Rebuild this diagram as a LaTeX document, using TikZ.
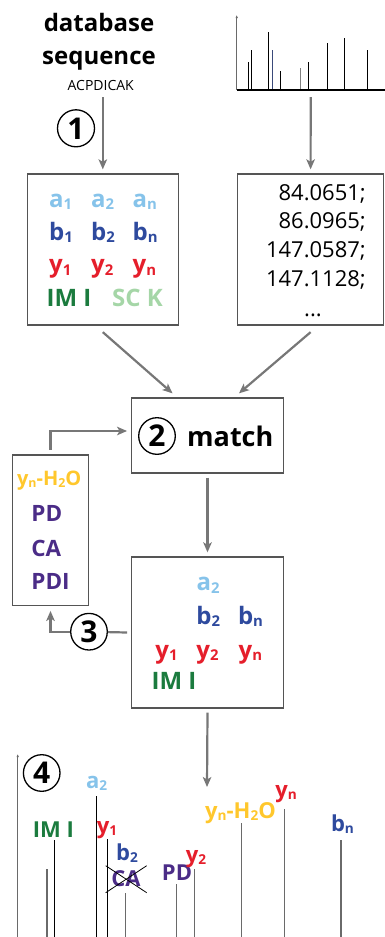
\documentclass[tikz,border=0pt]{standalone}
\usepackage{fontspec}
\setmainfont{Open Sans}
\usetikzlibrary{arrows.meta,calc}

\definecolor{ionA}{HTML}{86C3EA}
\definecolor{ionB}{HTML}{2E4A9E}
\definecolor{ionY}{HTML}{E51E2B}
\definecolor{ionIM}{HTML}{1B7B3E}
\definecolor{ionSC}{HTML}{A5D6A7}
\definecolor{ionW}{HTML}{FFC72C}
\definecolor{ionP}{HTML}{4B2C87}
\definecolor{frameGray}{HTML}{555555}
\definecolor{flowGray}{HTML}{777777}
\definecolor{peakBlue}{HTML}{3A4A7A}
\definecolor{peakGray}{HTML}{6A6A6A}

% subscript in the same font, scaled and lowered
\newcommand\ssub[1]{\raisebox{-0.1em}{\scalebox{0.62}{#1}}}
\newcommand\fsz[1]{\fontsize{#1}{#1}\selectfont}

\begin{document}
\begin{tikzpicture}[x=1pt,y=-1pt,
  frame/.style={draw=frameGray, line width=1.3pt, inner sep=0pt, rectangle},
  flow/.style={draw=flowGray, line width=2.2pt, -{Stealth[length=10pt,width=8.5pt,inset=2.5pt]}},
  flowline/.style={draw=flowGray, line width=2.2pt},
  ion/.style={font=\fsz{24}\bfseries, inner sep=0pt, anchor=base west},
  alt/.style={font=\fsz{22.5}\bfseries, inner sep=0pt, anchor=base west, text=ionP},
  tag/.style={font=\fsz{22}\bfseries, inner sep=0pt, anchor=base},
  num/.style={font=\fsz{22}, inner sep=0pt, anchor=base east, text=black},
  stepnum/.style={circle, draw=black, line width=1.3pt, minimum size=37pt, inner sep=0pt, font=\fsz{30}\bfseries},
  peak/.style={line width=1pt, draw=black},
  peakg/.style={line width=1.1pt, draw=peakGray},
  axis/.style={draw=peakGray, line width=1.4pt, -{Latex[length=3pt,width=2.5pt]}}
]
\useasboundingbox (0,0) rectangle (385,937);

% ---------- input: sequence ----------
\node[font=\fsz{24}\bfseries, anchor=base, inner sep=0pt] (db) at (99,31.7) {database};
\node[font=\fsz{24}\bfseries, anchor=base, inner sep=0pt] (sq) at (99,64) {sequence};
\node[font=\fsz{14}, anchor=base, inner sep=0pt, text=black] (seq) at (100.7,90.7) {ACPDICAK};
\node[stepnum] (c1) at (76,128.3) {1};

% ---------- input: measured spectrum ----------
\coordinate (specbase) at (310.7,90);
\foreach \px/\py in {248.3/61.7, 251.7/50, 268.3/32.3, 280/71, 308/61.7, 327/43.3, 344.3/37.7, 367/50}
  \draw[peak] (\px,90) -- (\px,\py);
\draw[peak, draw=peakBlue] (272.7,90) -- (272.7,50);
\draw[peakg, draw=gray] (300.7,90) -- (300.7,67.7);
\draw[line width=1.3pt] (236.7,90) -- (385,90);
\draw[axis] (236.7,90) -- (236.7,15);

% ---------- theoretical ions ----------
\node[frame, minimum width=151pt, minimum height=151pt] (box1) at (102.8,249.5) {};
\node[ion, text=ionA] at (49,207.3) {a\ssub{1}};
\node[ion, text=ionA] at (91,207.3) {a\ssub{2}};
\node[ion, text=ionA] at (132.5,207.3) {a\ssub{n}};
\node[ion, text=ionB] at (49,240) {b\ssub{1}};
\node[ion, text=ionB] at (91,240) {b\ssub{2}};
\node[ion, text=ionB] at (132.5,240) {b\ssub{n}};
\node[ion, text=ionY] at (49,272.7) {y\ssub{1}};
\node[ion, text=ionY] at (91,272.7) {y\ssub{2}};
\node[ion, text=ionY] at (132.5,272.7) {y\ssub{n}};
\node[ion, text=ionIM] at (46.5,306.7) {IM I};
\node[ion, text=ionSC] at (112,306.7) {SC K};

% ---------- peak list ----------
\node[frame, minimum width=145.8pt, minimum height=151pt] (box2) at (310.6,249.5) {};
\node[num] at (366,200) {84.0651;};
\node[num] at (366,228.3) {86.0965;};
\node[num] at (366,257.3) {147.0587;};
\node[num] at (366,286.7) {147.1128;};
\node[num, anchor=base] at (313,316) {...};

% ---------- matching ----------
\node[frame, minimum width=151.6pt, minimum height=75pt] (match) at (207.5,435.5) {};
\node[stepnum, minimum size=36.6pt] (c2) at (157,436) {2};
\node[font=\fsz{27}\bfseries, anchor=base west, inner sep=0pt] at (187,446) {match};

% ---------- alternative ions ----------
\node[frame, minimum width=75.6pt, minimum height=150.7pt] (altbox) at (50.5,530.4) {};
\node[font=\fsz{20}\bfseries, anchor=base, inner sep=0pt, text=ionW] at (49.2,485) {y\ssub{n}-H\ssub{2}O};
\node[alt] at (31.2,521.7) {PD};
\node[alt] at (31.2,556.7) {CA};
\node[alt] at (31.2,589.3) {PDI};

% ---------- matched ions ----------
\node[frame, minimum width=151.6pt, minimum height=151pt] (box3) at (207.5,632.5) {};
\node[ion, text=ionA] at (196.5,590.7) {a\ssub{2}};
\node[ion, text=ionB] at (196.2,624.3) {b\ssub{2}};
\node[ion, text=ionB] at (237.8,624.3) {b\ssub{n}};
\node[ion, text=ionY] at (155.2,658.3) {y\ssub{1}};
\node[ion, text=ionY] at (196.2,658.3) {y\ssub{2}};
\node[ion, text=ionY] at (238.5,658.3) {y\ssub{n}};
\node[ion, text=ionIM] at (151.5,689.3) {IM I};
\node[stepnum, minimum size=36.6pt] (c3) at (89,631.7) {3};

% ---------- annotated spectrum ----------
\coordinate (specarrow) at (207,787);
\draw[axis] (17.7,937) -- (17.7,754);
\node[stepnum, minimum size=36.6pt] (c4) at (41.7,773) {4};
\foreach \px/\py in {54.3/840, 96.3/796, 107.7/839.3}
  \draw[peak] (\px,937) -- (\px,\py);
\foreach \px/\py in {47/869.3, 125.7/892.7, 176.7/884, 194.7/869.3, 241.7/823.3, 284.7/809, 341/840}
  \draw[peakg] (\px,937) -- (\px,\py);
\node[tag, text=ionA] at (96.7,788) {a\ssub{2}};
\node[tag, text=ionIM] at (53.3,837.3) {IM I};
\node[tag, text=ionY] at (107,833) {y\ssub{1}};
\node[tag, text=ionB] at (127,860.7) {b\ssub{2}};
\node[tag, text=ionP] (ca) at (126,886.7) {CA};
\draw[line width=0.8pt] (105.7,865.7) -- (146.7,892.7);
\draw[line width=0.8pt] (105.7,892.7) -- (146.7,865.7);
\node[tag, text=ionP] at (177,880.7) {PD};
\node[tag, text=ionY] at (196,862.3) {y\ssub{2}};
\node[tag, text=ionW] at (240.5,818.3) {y\ssub{n}-H\ssub{2}O};
\node[tag, text=ionY] at (286,797.3) {y\ssub{n}};
\node[tag, text=ionB] at (342.5,831.7) {b\ssub{n}};

% ---------- flow ----------
\draw[flow] ([yshift=-6pt]box1.north |- seq.south) -- ([yshift=4pt]box1.north);
\draw[flow] ([yshift=-7pt]specbase) -- ([yshift=4pt]box2.north);
\draw[flow] ([yshift=-6.5pt]box1.south) -- ([xshift=41.5pt,yshift=4pt]match.north west);
\draw[flow] ([yshift=-6.5pt]box2.south) -- ([xshift=-45pt,yshift=4pt]match.north east);
\draw[flow] ([yshift=-4pt]match.south) -- ([yshift=4pt]box3.north);
\draw[flow] ([yshift=-4pt]box3.south) -- (specarrow);
\draw[flow] ([yshift=4.5pt]altbox.north) |- ([xshift=-4pt,yshift=4.5pt]match.west);
\draw[flowline] ([xshift=-4pt]box3.west) -- (c3);
\draw[flow] (c3) -| ([yshift=-4.5pt]altbox.south);
\end{tikzpicture}
\end{document}
